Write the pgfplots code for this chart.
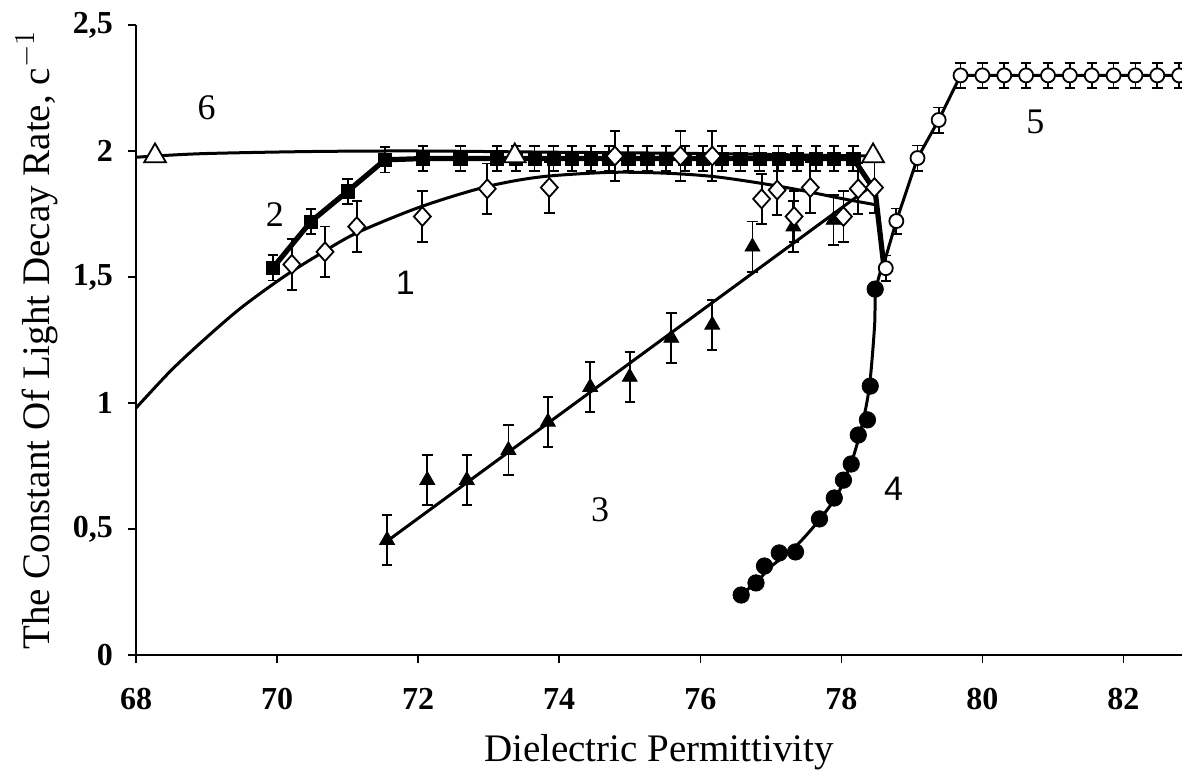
\documentclass[border=0pt]{standalone}
\usepackage{pgfplots}
\pgfplotsset{compat=1.18}
\usepackage{fontspec}
\setmainfont{Liberation Serif}
\newfontfamily\arialfont{Liberation Sans}

\begin{document}
\begin{tikzpicture}
  \begin{axis}[
    scale only axis,
    width=523pt, height=315pt,
    xmin=68, xmax=82.83,
    ymin=0, ymax=2.5,
    axis x line*=bottom, axis y line*=left,
    axis line style={-, line width=0.75pt},
    tick align=outside,
    major tick length=4pt,
    tick style={line width=0.75pt, black},
    xtick={68,70,72,74,76,78,80,82},
    xticklabels={68,70,72,74,76,78,80,82},
    ytick={0,0.5,1,1.5,2,2.5},
    yticklabels={0,{0,5},1,{1,5},2,{2,5}},
    ticklabel style={font=\fontsize{16}{16}\selectfont\bfseries},
    xticklabel style={anchor=center, yshift=-18pt},
    yticklabel style={anchor=east, xshift=-4pt},
    xlabel={Dielectric Permittivity},
    ylabel={The Constant Of Light Decay Rate, c$^{-1}$},
    label style={font=\fontsize{19.5}{19.5}\selectfont},
    xlabel style={at={(axis description cs:0.5,-0.155)}, anchor=center},
    ylabel style={at={(axis description cs:-0.095,0.5)}, anchor=center},
    clip=false,
  ]

  % fitted curves
  % 1
  \addplot[black, line width=1.5pt, smooth, no markers] coordinates {
    (68,0.98) (68.5,1.13) (69,1.26) (69.5,1.38) (70.09,1.50) (70.6,1.59)
    (71.13,1.675) (72.03,1.778) (72.95,1.857) (73.73,1.897) (74.7,1.915)
    (75.5,1.912) (76.24,1.897) (77.18,1.857) (78.03,1.81) (78.5,1.786)
  };
  % 6
  \addplot[black, line width=1.5pt, smooth, no markers] coordinates {
    (68,1.975) (68.27,1.98) (69,1.99) (70.5,1.998) (72,2.0)
    (74,1.995) (76,1.99) (78.45,1.98)
  };
  % 3
  \addplot[black, line width=1.5pt, no markers] coordinates {
    (71.55,0.45) (78.47,1.87)
  };
  % 4
  \addplot[black, line width=1.5pt, smooth, no markers] coordinates {
    (76.58,0.24) (76.8,0.29) (77.0,0.35) (77.35,0.43) (77.7,0.54)
    (77.95,0.64) (78.15,0.77) (78.3,0.92) (78.4,1.07) (78.47,1.3)
    (78.49,1.45) (78.6,1.56)
  };
  % 2 (thick line)
  \addplot[black, line width=2.6pt, no markers] coordinates {
    (69.94,1.536) (70.48,1.72) (71.0,1.84) (71.53,1.965) (72.07,1.97)
    (78.17,1.97) (78.48,1.84) (78.6,1.55)
  };
  % 5
  \addplot[black, line width=1.5pt, no markers] coordinates {
    (78.6,1.55) (78.78,1.722) (79.08,1.972) (79.38,2.123) (79.69,2.30)
    (82.83,2.30)
  };

  % series 2: filled squares
  \addplot[only marks, mark=square*, mark size=3.3pt, black,
    error bars/.cd, y dir=both, y fixed=0.05,
    error bar style={line width=0.9pt},
    error mark options={rotate=90, mark size=2.6pt, line width=0.9pt}]
  coordinates {
    (69.94,1.536) (70.48,1.72) (71.0,1.84) (71.53,1.965) (72.07,1.97)
    (72.6,1.97) (73.12,1.97) (73.39,1.97) (73.65,1.97) (73.92,1.97)
    (74.18,1.97) (74.45,1.97) (74.71,1.97) (74.98,1.97) (75.25,1.97)
    (75.51,1.97) (75.78,1.97) (76.04,1.97) (76.31,1.97) (76.57,1.97)
    (76.84,1.97) (77.11,1.97) (77.37,1.97) (77.64,1.97) (77.90,1.97)
    (78.17,1.97)
  };

  % series 3: filled triangles
  \addplot[only marks, mark=triangle*, mark size=4.3pt, black,
    error bars/.cd, y dir=both, y fixed=0.1,
    error bar style={line width=0.9pt},
    error mark options={rotate=90, mark size=2.6pt, line width=0.9pt}]
  coordinates {
    (71.56,0.456) (72.13,0.694) (72.69,0.694) (73.28,0.813) (73.84,0.925)
    (74.44,1.063) (75.0,1.103) (75.59,1.258) (76.17,1.31) (76.74,1.62)
    (77.32,1.70) (77.89,1.726)
  };

  % series 4: filled circles
  \addplot[only marks, mark=*, mark size=4.1pt, black] coordinates {
    (76.58,0.238) (76.79,0.286) (76.91,0.353) (77.12,0.405) (77.35,0.409)
    (77.69,0.54) (77.90,0.623) (78.03,0.694) (78.14,0.758) (78.24,0.873)
    (78.37,0.933) (78.41,1.067) (78.48,1.452)
  };

  % series 1: open diamonds
  \addplot[only marks, mark=diamond*, mark size=4.7pt, black,
    mark options={fill=white, draw=black, line width=0.9pt, xscale=1.2},
    error bars/.cd, y dir=both, y fixed=0.1,
    error bar style={line width=0.9pt},
    error mark options={rotate=90, mark size=2.6pt, line width=0.9pt}]
  coordinates {
    (70.21,1.55) (70.68,1.60) (71.13,1.70) (72.06,1.74) (72.98,1.85)
    (73.86,1.855) (74.79,1.98) (75.72,1.98) (76.17,1.98) (76.87,1.81)
    (77.09,1.845) (77.33,1.74) (77.56,1.855) (78.03,1.74) (78.24,1.85)
    (78.47,1.855)
  };

  % series 5: open circles
  \addplot[only marks, mark=*, mark size=3.5pt, black,
    mark options={fill=white, draw=black, line width=0.9pt},
    error bars/.cd, y dir=both, y fixed=0.05,
    error bar style={line width=0.9pt},
    error mark options={rotate=90, mark size=2.6pt, line width=0.9pt}]
  coordinates {
    (78.63,1.535) (78.78,1.722) (79.08,1.972) (79.38,2.123) (79.69,2.30)
    (80.0,2.30) (80.31,2.30) (80.62,2.30) (80.93,2.30) (81.24,2.30)
    (81.55,2.30) (81.86,2.30) (82.17,2.30) (82.48,2.30) (82.79,2.30)
  };

  % series 6: open triangles
  \addplot[only marks, mark=triangle*, mark size=6.3pt, black,
    mark options={fill=white, draw=black, line width=0.9pt}]
  coordinates {
    (68.27,1.98) (73.37,1.98) (78.45,1.98)
  };

  % curve numbers
  \node[font=\fontsize{18}{18}\selectfont] at (axis cs:69.0,2.17) {6};
  \node[font=\fontsize{18}{18}\selectfont] at (axis cs:69.97,1.746) {2};
  \node[font=\arialfont\fontsize{17}{17}\selectfont] at (axis cs:71.82,1.476) {1};
  \node[font=\fontsize{18}{18}\selectfont] at (axis cs:74.58,0.575) {3};
  \node[font=\arialfont\fontsize{17}{17}\selectfont] at (axis cs:78.74,0.66) {4};
  \node[font=\fontsize{18}{18}\selectfont] at (axis cs:80.75,2.115) {5};
  \end{axis}
  \pgfresetboundingbox
  \path (-68pt,-63.5pt) rectangle (523pt,327.5pt);
\end{tikzpicture}
\end{document}
